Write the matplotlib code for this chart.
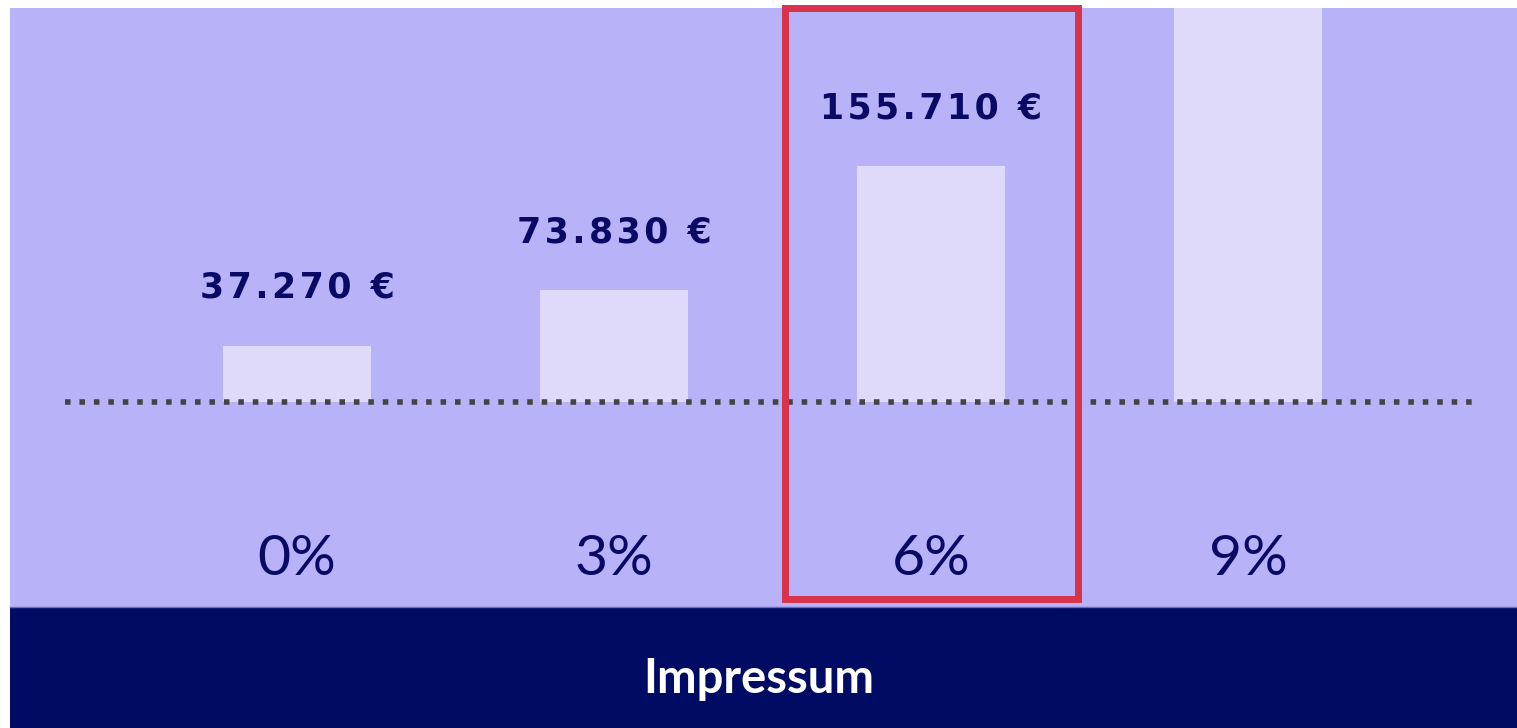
import matplotlib
matplotlib.use("Agg")
import matplotlib.pyplot as plt
import matplotlib.transforms as mtransforms
from matplotlib.patches import Rectangle

# ---------------------------------------------------------
# DATA
# ---------------------------------------------------------
rates = ["0%", "3%", "6%", "9%"]
end_values = [37270, 73830, 155710, 366000]   # 9% bar runs off the top, value estimated
highlight_idx = 2
footer_text = "Impressum"

# ---------------------------------------------------------
# STYLE
# ---------------------------------------------------------
bg_color = "#b8b3f9"
bar_color = "#dfd9fa"
navy = "#0a0a66"
footer_color = "#000b64"
red = "#d9334b"
dot_color = "#444444"

W, H = 1517, 728
fig = plt.figure(figsize=(W / 100, H / 100), dpi=100)
fig.patch.set_facecolor("white")

# main panel (purple area)
ax = fig.add_axes([10 / W, 121 / H, 1507 / W, 599 / H])
ax.set_facecolor(bg_color)
for s in ax.spines.values():
    s.set_visible(False)
ax.set_xticks([])
ax.set_yticks([])

x = list(range(len(rates)))
ax.set_xlim(-0.905, 3.847)
ax.set_ylim(-135260, 259960)

ax.bar(x, end_values, width=0.467, color=bar_color, zorder=2)

# dotted baseline (square dots)
ax.plot([x[0] - 0.73, x[-1] + 0.73], [0, 0], color=dot_color, linewidth=4.0,
        linestyle=(0, (1, 1.6)), dash_capstyle="butt", zorder=3)

# value labels above bars (only those inside the panel), letter-spaced
top = ax.get_ylim()[1]
for i, v in zip(x, end_values):
    if v < top:
        label = f"{v:,}".replace(",", ".") + " €"
        label = "\u200a".join(label)
        ax.annotate(label, (i, v), xytext=(0, 34.5), textcoords="offset points",
                    ha="center", va="baseline", fontsize=25, fontweight="bold",
                    color=navy, family="DejaVu Sans", zorder=4)

# rate labels
trans = mtransforms.blended_transform_factory(ax.transData, ax.transAxes)
for i, r in zip(x, rates):
    ax.text(i, 32 / 599, r, transform=trans, ha="center", va="baseline",
            fontsize=41, color=navy, family="Lato")

# highlight box around selected rate
ax.add_patch(Rectangle((highlight_idx - 0.4627, 8.5 / 599), 0.9254, 1 - 8.5 / 599,
                       transform=trans, fill=False, edgecolor=red, linewidth=5,
                       clip_on=False, zorder=6))

# footer band
ax_foot = fig.add_axes([10 / W, 0, 1507 / W, 121 / H])
ax_foot.set_facecolor(footer_color)
ax_foot.set_xticks([])
ax_foot.set_yticks([])
for s in ["left", "right", "bottom"]:
    ax_foot.spines[s].set_visible(False)
ax_foot.spines["top"].set_color("#6c69c4")
ax_foot.spines["top"].set_linewidth(1.0)
fig.text(0.5, 35 / H, footer_text, ha="center", va="baseline", fontsize=34,
         fontweight="bold", color="white", family="Lato")

fig.savefig("out.png", dpi=100, facecolor="white")
